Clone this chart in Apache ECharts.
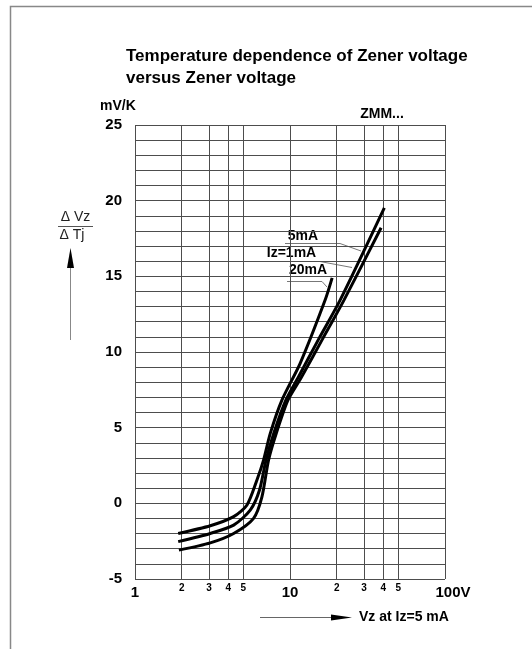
<!DOCTYPE html>
<html>
<head>
<meta charset="utf-8">
<script src="https://cdn.jsdelivr.net/npm/echarts@6/dist/echarts.min.js"></script>
<style>
  html, body { margin: 0; padding: 0; background: #fff; }
  #chart { width: 532px; height: 649px; }
</style>
</head>
<body>
<div id="chart"></div>
<script>
// Zener voltage (V) and temperature coefficient (mV/K)
const vz20mA = [1.9, 3.06, 4.33, 5.28, 6.12, 6.75, 7.46, 8.87, 11.63, 16.85, 18.7];
const tc20mA = [-1.99, -1.48, -0.88, -0.11, 1.54, 2.86, 4.62, 6.82, 9.25, 13.43, 14.9];

const vz5mA = [1.9, 3.06, 4.33, 5.54, 6.36, 7.0, 7.85, 9.4, 11.4, 15.4, 21.05, 40.6];
const tc5mA = [-2.53, -1.99, -1.44, -0.45, 0.88, 2.86, 4.62, 6.82, 8.4, 10.9, 13.43, 19.53];

const vz1mA = [1.92, 3.06, 4.33, 5.82, 6.59, 7.27, 8.15, 9.7, 11.8, 16.2, 22.3, 38.7];
const tc1mA = [-3.09, -2.61, -1.99, -0.99, 0.43, 2.86, 4.62, 6.82, 8.3, 10.85, 13.43, 18.21];

// extra vertical grid lines of the log axis and their small labels
const minorTicks = [2, 3, 4, 5, 20, 30, 40, 50];
const minorLabels = ['2', '3', '4', '5', '2', '3', '4', '5'];

const FONT = 'Liberation Sans, Arial, sans-serif';

function pairs(xs, ys) {
  return xs.map((x, i) => [x, ys[i]]);
}

function curve(name, xs, ys) {
  return {
    name: name,
    type: 'line',
    z: 3,
    smooth: 0.25,
    showSymbol: false,
    silent: true,
    lineStyle: { color: '#000', width: 3 },
    data: pairs(xs, ys)
  };
}

const chart = echarts.init(document.getElementById('chart'));

chart.setOption({
  animation: false,
  backgroundColor: '#fff',
  title: {
    text: 'Temperature dependence of Zener voltage\nversus Zener voltage',
    left: 126,
    top: 45,
    padding: 0,
    textStyle: { fontFamily: FONT, fontSize: 17, fontWeight: 'bold', color: '#000', lineHeight: 22 }
  },
  grid: { left: 135, top: 125, width: 310, height: 454 },
  xAxis: {
    type: 'log',
    logBase: 10,
    min: 1,
    max: 100,
    axisLine: { show: false },
    axisTick: { show: false },
    splitLine: { show: true, lineStyle: { color: '#4d4d4d', width: 1 } },
    axisLabel: {
      margin: 6,
      fontFamily: FONT,
      fontSize: 15,
      fontWeight: 'bold',
      color: '#000',
      formatter: v => (v === 100 ? '{v|100V}' : String(v)),
      rich: {
        v: { fontFamily: FONT, fontSize: 15, fontWeight: 'bold', color: '#000', padding: [0, 0, 0, 16] }
      }
    }
  },
  yAxis: {
    type: 'value',
    min: -5,
    max: 25,
    interval: 5,
    axisLine: { show: false },
    axisTick: { show: false },
    minorTick: { show: false, splitNumber: 5 },
    splitLine: { show: true, lineStyle: { color: '#4d4d4d', width: 1 } },
    minorSplitLine: { show: true, lineStyle: { color: '#4d4d4d', width: 1 } },
    axisLabel: { margin: 13, fontFamily: FONT, fontSize: 15, fontWeight: 'bold', color: '#000' }
  },
  series: [
    {
      name: 'grid',
      type: 'line',
      data: [],
      markLine: {
        silent: true,
        z: 1,
        symbol: ['none', 'none'],
        lineStyle: { color: '#4d4d4d', width: 1, type: 'solid' },
        label: {
          show: true,
          position: 'start',
          distance: 4,
          formatter: '{b}',
          fontFamily: FONT,
          fontSize: 10,
          fontWeight: 'bold',
          color: '#000'
        },
        emphasis: { disabled: true },
        data: minorTicks.map((v, i) => ({ xAxis: v, name: minorLabels[i] }))
      }
    },
    curve('20mA', vz20mA, tc20mA),
    curve('5mA', vz5mA, tc5mA),
    curve('Iz=1mA', vz1mA, tc1mA)
  ],
  graphic: [
    // page frame
    { type: 'polyline', shape: { points: [[10.5, 649], [10.5, 6.5], [532, 6.5]] }, style: { stroke: '#888', lineWidth: 1.5, fill: null } },
    { type: 'text', x: 100, y: 106, style: { text: 'mV/K', font: 'bold 14px ' + FONT, fill: '#000', textVerticalAlign: 'middle' } },
    { type: 'text', x: 382, y: 114, style: { text: 'ZMM...', font: 'bold 14px ' + FONT, fill: '#000', textAlign: 'center', textVerticalAlign: 'middle' } },
    // y quantity as a fraction with an arrow
    { type: 'text', x: 75.5, y: 217.5, style: { text: 'Δ Vz', font: '14px ' + FONT, fill: '#222', textAlign: 'center', textVerticalAlign: 'middle' } },
    { type: 'line', shape: { x1: 58, y1: 226.5, x2: 93, y2: 226.5 }, style: { stroke: '#555', lineWidth: 1 } },
    { type: 'text', x: 72, y: 235, style: { text: 'Δ Tj', font: '14px ' + FONT, fill: '#222', textAlign: 'center', textVerticalAlign: 'middle' } },
    { type: 'line', shape: { x1: 70.5, y1: 340, x2: 70.5, y2: 262 }, style: { stroke: '#888', lineWidth: 1 } },
    { type: 'polygon', shape: { points: [[70.5, 248], [67, 268], [74, 268]] }, style: { fill: '#000' } },
    // x quantity with an arrow
    { type: 'line', shape: { x1: 260, y1: 617.5, x2: 336, y2: 617.5 }, style: { stroke: '#666', lineWidth: 1 } },
    { type: 'polygon', shape: { points: [[352, 617.5], [331, 614.5], [331, 620.5]] }, style: { fill: '#000' } },
    { type: 'text', x: 359, y: 617.5, style: { text: 'Vz at Iz=5 mA', font: 'bold 14px ' + FONT, fill: '#000', textVerticalAlign: 'middle' } },
    // curve labels and leaders
    { type: 'text', x: 303, y: 236, style: { text: '5mA', font: 'bold 14px ' + FONT, fill: '#000', textAlign: 'center', textVerticalAlign: 'middle' } },
    { type: 'text', x: 291.5, y: 253, style: { text: 'Iz=1mA', font: 'bold 14px ' + FONT, fill: '#000', textAlign: 'center', textVerticalAlign: 'middle' } },
    { type: 'text', x: 308, y: 270.5, style: { text: '20mA', font: 'bold 14px ' + FONT, fill: '#000', textAlign: 'center', textVerticalAlign: 'middle' } },
    { type: 'polyline', shape: { points: [[285, 243.5], [340, 243.5], [361, 251]] }, style: { stroke: '#777', lineWidth: 1, fill: null } },
    { type: 'polyline', shape: { points: [[287, 261.5], [320, 261.5], [352, 267.5]] }, style: { stroke: '#777', lineWidth: 1, fill: null } },
    { type: 'polyline', shape: { points: [[287, 281.5], [322, 281.5], [327, 287]] }, style: { stroke: '#777', lineWidth: 1, fill: null } }
  ]
});
</script>
</body>
</html>
